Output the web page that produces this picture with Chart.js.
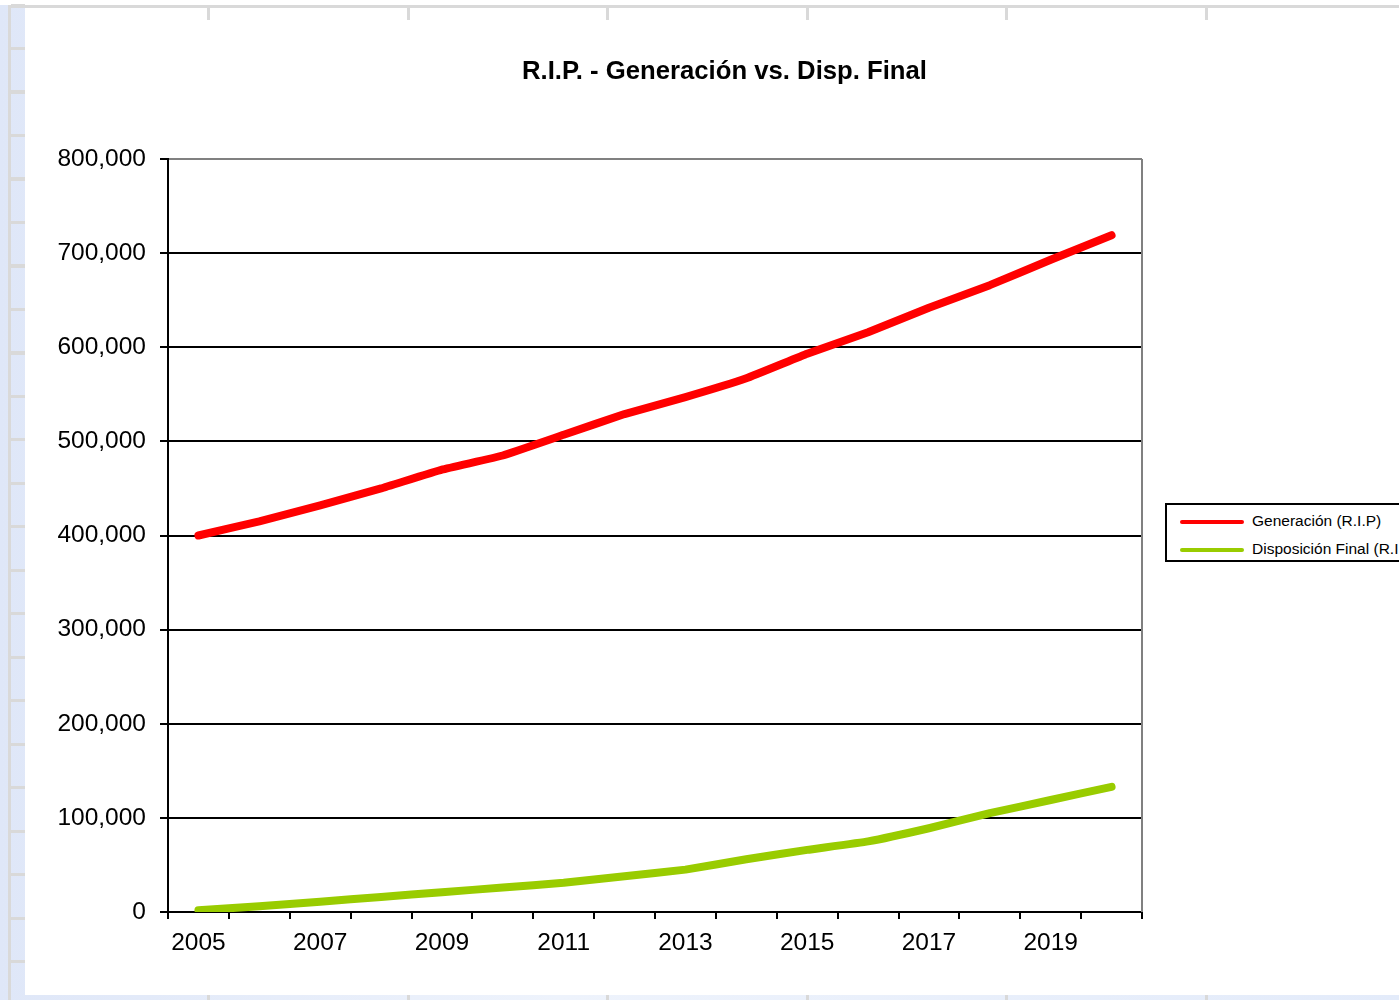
<!DOCTYPE html>
<html>
<head>
<meta charset="utf-8">
<script src="https://cdn.jsdelivr.net/npm/chart.js@4"></script>
<style>
  html, body { margin: 0; padding: 0; }
  body {
    width: 1399px; height: 1000px; overflow: hidden; position: relative;
    background: linear-gradient(90deg, #dfe7f8 0%, #eef3fc 40%, #e3ebfa 100%);
    font-family: "Liberation Sans", Arial, sans-serif;
  }
  .top-strip { position: absolute; left: 0; top: 0; width: 1399px; height: 5px; background: #fff; }
  .ruler-top {
    position: absolute; left: 8px; top: 5px; width: 1391px; height: 3px; background: #d9d9d9;
  }
  .ruler-left {
    position: absolute; left: 8px; top: 5px; width: 3px; height: 995px; background: #d9d9d9;
  }
  .ticks-left {
    position: absolute; left: 11px; top: 0; width: 14px; height: 1000px;
    background: repeating-linear-gradient(180deg, transparent 0px, transparent 5px, #d9d9d9 5px, #d9d9d9 8px, transparent 8px, transparent 43.5px);
    background-position: 0 42px;
  }
  .panel { position: absolute; left: 25px; top: 8px; width: 1374px; height: 987px; background: #fff; }
  .ticks-top span {
    position: absolute; top: 8px; width: 3px; height: 12px; background: #d9d9d9;
  }
  .ticks-bottom span {
    position: absolute; top: 995px; width: 3px; height: 5px; background: #d9d9d9;
  }
  #title {
    position: absolute; left: 0; top: 55px; width: 1449px; text-align: center;
    font-weight: bold; font-size: 25.7px; line-height: 30px; color: #000;
  }
  canvas { position: absolute; left: 0; top: 0; }
  #legend {
    position: absolute; left: 1165px; top: 503px; width: 260px; height: 55px;
    border: 2px solid #000; background: #fff; box-sizing: content-box;
  }
  .legend-row { position: absolute; left: 0; height: 20px; white-space: nowrap; font-size: 15.5px; color: #000; }
  .legend-row .swatch { position: absolute; left: 13px; top: 8px; width: 64px; height: 4px; border-radius: 2px; }
  .legend-row .label { position: absolute; left: 85px; top: 0px; line-height: 18px; }
</style>
</head>
<body>
<div class="top-strip"></div>
<div class="ruler-top"></div>
<div class="ruler-left"></div>
<div class="ticks-left"></div>
<div class="panel"></div>
<div class="ticks-top">
  <span style="left:207px"></span><span style="left:407px"></span><span style="left:606px"></span>
  <span style="left:806px"></span><span style="left:1005px"></span><span style="left:1205px"></span>
</div>
<div class="ticks-bottom">
  <span style="left:207px"></span><span style="left:407px"></span><span style="left:606px"></span>
  <span style="left:806px"></span><span style="left:1005px"></span><span style="left:1205px"></span>
</div>
<canvas id="chart" width="1399" height="1000"></canvas>
<div id="title">R.I.P. - Generación vs. Disp. Final</div>
<div id="legend"></div>
<script>
const years = ["2005", "2006", "2007", "2008", "2009", "2010", "2011", "2012",
  "2013", "2014", "2015", "2016", "2017", "2018", "2019", "2020"]
const generacion = [400000, 415000, 432000, 450000, 470000, 485000, 507000, 529000,
  547000, 567000, 593000, 616000, 642000, 666000, 693000, 719000]
const disposicion = [2000, 6000, 11000, 16000, 21000, 26000, 31000, 38000,
  45000, 56000, 66000, 75000, 89000, 105000, 119000, 133000]
const seriesLabels = ["Generación  (R.I.P)", "Disposición Final (R.I.P)"]
const seriesColors = ["#ff0000", "#99cc00"]

const font = { family: "'Liberation Sans', Arial, sans-serif", size: 24.5 }

// gray frame on the right side of the plot area, like the top gridline
const plotFrame = {
  id: "plotFrame",
  beforeDatasetsDraw(chart) {
    const { ctx, chartArea } = chart
    ctx.save()
    ctx.strokeStyle = "#808080"
    ctx.lineWidth = 2
    ctx.beginPath()
    ctx.moveTo(chartArea.right, chartArea.top)
    ctx.lineTo(chartArea.right, chartArea.bottom)
    ctx.stroke()
    ctx.restore()
  },
}

const canvas = document.getElementById("chart")
const chart = new Chart(canvas, {
  type: "line",
  data: {
    labels: years,
    datasets: [
      { label: seriesLabels[0], data: generacion, borderColor: seriesColors[0], backgroundColor: seriesColors[0] },
      { label: seriesLabels[1], data: disposicion, borderColor: seriesColors[1], backgroundColor: seriesColors[1] },
    ],
  },
  options: {
    responsive: false,
    animation: false,
    layout: { padding: { left: 38, top: 159, right: 257, bottom: 38 } },
    elements: {
      line: { borderWidth: 8, borderCapStyle: "round", borderJoinStyle: "round", tension: 0.1 },
      point: { radius: 0 },
    },
    scales: {
      x: {
        offset: true,
        border: { color: "#000", width: 2 },
        grid: { offset: true, drawOnChartArea: false, drawTicks: true, tickLength: 7, tickColor: "#000", lineWidth: 2 },
        ticks: {
          autoSkip: false, maxRotation: 0, color: "#000", font: font, padding: 10,
          callback: (value, i) => (i % 2 === 0 ? years[i] : ""),
        },
        afterFit: scale => { scale.height = 50 },
      },
      y: {
        min: 0,
        max: 800000,
        border: { color: "#000", width: 2 },
        grid: {
          color: ctx => (ctx.tick && ctx.tick.value === 800000 ? "#808080" : "#000"),
          lineWidth: 2,
          tickLength: 8,
          tickColor: "#000",
        },
        ticks: {
          stepSize: 100000, color: "#000", font: font, padding: 14,
          callback: value => value.toLocaleString("en-US"),
        },
        afterFit: scale => { scale.width = 130 },
      },
    },
    plugins: {
      legend: { display: false },
      title: { display: false },
      tooltip: { enabled: false },
    },
  },
  plugins: [plotFrame],
})

// html legend built from the datasets
const legendEl = document.getElementById("legend")
chart.data.datasets.forEach((ds, i) => {
  const row = document.createElement("div")
  row.className = "legend-row"
  row.style.top = (7 + i * 28) + "px"

  const swatch = document.createElement("span")
  swatch.className = "swatch"
  swatch.style.background = ds.borderColor
  row.appendChild(swatch)

  const label = document.createElement("span")
  label.className = "label"
  label.appendChild(document.createTextNode(ds.label))
  row.appendChild(label)

  legendEl.appendChild(row)
})
</script>
</body>
</html>
